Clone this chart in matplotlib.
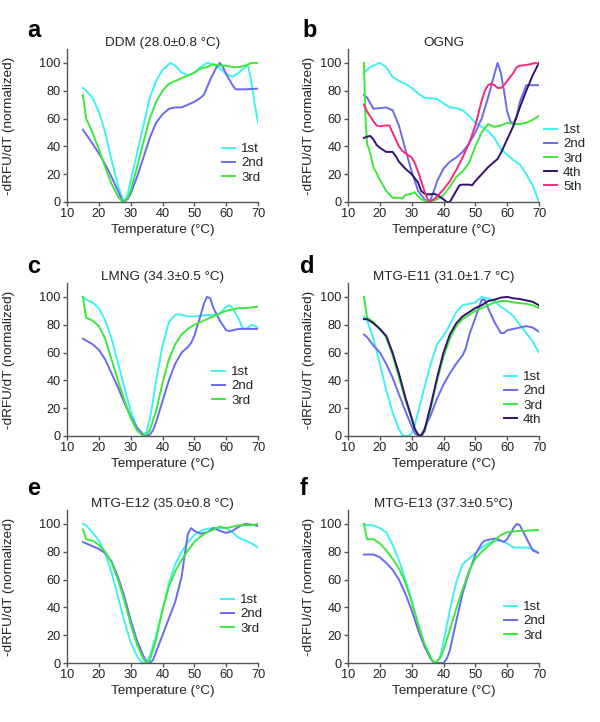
import matplotlib
matplotlib.use("Agg")
import matplotlib.pyplot as plt

plt.rcParams["font.family"] = ["Liberation Sans", "DejaVu Sans"]

C1 = "#3ff2f2"
C2 = "#6a6af0"
C3 = "#3de83d"
C4 = "#35106e"
C5 = "#f22a7c"

# ---- panel a: DDM ----
ddm_1st_t = [15, 16, 18, 20, 22, 24, 26, 27.5, 28, 29, 30, 32, 34, 36, 38, 40, 42.5, 44, 46, 48, 50, 52, 54, 56, 58, 60, 62, 64, 66.5, 67, 68, 69, 70]
ddm_1st_y = [82, 80, 75, 65, 50, 30, 12, 2, 0, 5, 15, 35, 55, 75, 87, 95, 100, 98, 93, 91, 93, 97, 100, 99, 96, 92, 90, 93, 98, 97, 85, 70, 57]
ddm_2nd_t = [15, 18, 20, 22, 24, 26, 27.5, 29, 30, 32, 34, 36, 38, 40, 42, 44, 46, 48, 50, 52, 53, 55, 57, 58, 59, 60, 62, 63, 66, 70]
ddm_2nd_y = [52, 42, 35, 27, 18, 8, 0, 2, 6, 18, 32, 46, 57, 63, 67, 68, 68, 70, 72, 75, 77, 88, 97, 100, 97, 92, 84, 81, 81, 81.5]
ddm_3rd_t = [15, 16, 18, 20, 22, 24, 26, 27.5, 29, 30, 32, 34, 36, 38, 40, 42, 44, 46, 48, 50, 52, 54, 56, 58, 60, 62, 64, 66, 68, 70]
ddm_3rd_y = [77, 60, 50, 38, 25, 13, 4, 0, 3, 8, 25, 43, 60, 72, 80, 85, 87, 89, 91, 93, 96, 97, 99, 98, 98, 97, 97, 98, 100, 100]

# ---- panel b: OGNG ----
ogng_1st_t = [15, 17, 20, 22, 24, 26, 28, 30, 32, 34, 36, 38, 40, 42, 44, 46, 48, 50, 52, 54, 56, 58, 60, 62, 64, 66, 68, 70]
ogng_1st_y = [93, 97, 100, 97, 90, 87, 85, 82, 78, 75, 74.5, 74, 71, 68, 67.5, 66, 62, 57, 54, 51, 46, 38, 34, 30, 27, 20, 12, 0]
ogng_2nd_t = [15, 16, 18, 20, 22, 24, 26, 28, 30, 32, 34, 35, 36, 37, 38, 40, 42, 44, 46, 48, 50, 52, 54, 56, 57, 58, 59, 60, 61, 62, 63, 64, 66, 68, 70]
ogng_2nd_y = [77, 75, 67, 67.5, 68, 66, 55, 38, 22, 8, 2, 0, 2, 8, 15, 24, 29, 32, 36, 42, 50, 60, 75, 92, 100, 93, 80, 65, 58, 56, 62, 72, 84, 84, 84]
ogng_3rd_t = [15, 15.5, 16, 17, 18, 20, 22, 24, 26, 27, 28, 30, 31, 32, 33, 34, 35, 36, 38, 40, 42, 44, 45, 46, 48, 50, 52, 54, 56, 58, 60, 62, 64, 66, 68, 70]
ogng_3rd_y = [100, 60, 42, 35, 25, 16, 8, 3, 3, 2.5, 5, 6, 7, 4, 2, 1, 0.5, 0.5, 2, 5, 11, 18, 20, 22, 28, 40, 50, 56, 54, 55, 57, 56, 56, 57, 59, 62]
ogng_4th_t = [15, 16, 17, 18, 19, 20, 22, 24, 25, 26, 28, 30, 32, 33, 34, 35, 36, 37, 38, 40, 41, 42, 43, 44, 45, 46, 48, 49, 50, 52, 54, 56, 57, 58, 60, 62, 64, 66, 68, 70]
ogng_4th_y = [46, 47, 47.5, 45, 41, 39, 36, 36, 33, 29, 24, 20, 14, 8, 6, 5.5, 5.5, 6, 5, 2, 0, 0, 4, 8, 12, 12.5, 12.5, 12, 15, 20, 25, 29, 31, 35, 45, 55, 68, 80, 91, 100]
ogng_5th_t = [15, 16, 18, 19, 20, 22, 23, 24, 25, 26, 27, 28, 30, 31, 32, 33, 34, 35, 35.5, 37, 38, 40, 42, 44, 46, 48, 50, 52, 53, 54, 55, 56, 57, 58, 59, 60, 62, 63, 64, 66, 68, 69, 70]
ogng_5th_y = [70, 65, 58, 55, 54.5, 55, 55, 50, 45, 40, 37, 35, 32, 28, 22, 15, 8, 2, 0, 2, 4, 9, 15, 23, 32, 42, 55, 73, 80, 84, 85, 84, 82, 82, 84, 87, 93, 97, 98, 98.5, 99.5, 100, 99]

# ---- panel c: LMNG ----
lmng_1st_t = [15, 16, 18, 20, 22, 24, 26, 28, 30, 32, 33, 34, 35, 36, 37, 38, 40, 42, 44, 45, 46, 48, 50, 52, 54, 56, 58, 60, 61, 62, 64, 65, 66, 67, 68, 69, 70]
lmng_1st_y = [100, 98, 96, 92, 83, 70, 53, 35, 18, 6, 2, 0, 3, 12, 25, 40, 65, 82, 87, 87.5, 87, 86, 86, 86.5, 87, 87, 88, 93, 94, 92, 84, 78, 77, 78, 80, 79, 78]
lmng_2nd_t = [15, 18, 20, 22, 24, 26, 28, 30, 32, 34, 35, 36, 37, 38, 40, 42, 44, 46, 48, 49, 50, 52, 53, 54, 55, 56, 58, 60, 61, 62, 64, 66, 68, 70]
lmng_2nd_y = [70, 66, 62, 55, 45, 35, 24, 14, 6, 1, 0, 1, 4, 10, 25, 40, 52, 60, 64, 67, 72, 87, 95, 100, 99, 92, 83, 76, 75.5, 76, 77, 77, 77, 77]
lmng_3rd_t = [15, 16, 18, 20, 22, 24, 26, 28, 30, 32, 34, 35, 36, 38, 40, 42, 44, 46, 48, 50, 52, 54, 56, 58, 60, 62, 64, 66, 68, 70]
lmng_3rd_y = [100, 85, 83, 79, 70, 55, 40, 26, 13, 4, 0, 1, 4, 18, 38, 55, 66, 73, 77, 80, 82, 84, 86, 88, 90, 91, 92, 92, 92.5, 93]

# ---- panel d: MTG-E11 ----
e11_1st_t = [15, 16, 18, 20, 22, 24, 26, 27, 28, 29, 30, 31, 32, 34, 36, 38, 40, 42, 44, 46, 48, 50, 52, 54, 56, 58, 60, 62, 64, 66, 68, 70]
e11_1st_y = [86, 83, 70, 52, 33, 17, 5, 1, 0, 0, 2, 8, 17, 35, 52, 66, 72, 80, 89, 94, 95, 96, 100, 99, 97, 93, 90, 86, 80, 74, 68, 60]
e11_2nd_t = [15, 16, 18, 20, 22, 24, 26, 28, 30, 31, 32, 33, 34, 36, 38, 40, 42, 44, 46, 47, 48, 50, 52, 53, 54, 56, 58, 59, 60, 62, 64, 66, 68, 70]
e11_2nd_y = [73, 71, 65, 60, 52, 42, 30, 18, 7, 2, 0, 1, 5, 15, 27, 37, 45, 52, 58, 63, 72, 85, 98, 98, 92, 82, 74, 74, 76, 77, 78, 79, 78, 75]
e11_3rd_t = [15, 16, 18, 20, 22, 24, 26, 28, 30, 31, 32, 33, 34, 36, 38, 40, 42, 44, 46, 48, 50, 52, 54, 56, 58, 60, 62, 64, 66, 68, 70]
e11_3rd_y = [100, 85, 82, 77, 71, 58, 42, 26, 12, 5, 1, 0, 3, 20, 40, 57, 70, 79, 84, 87, 90, 92, 94, 96, 97, 97, 96, 95.5, 95, 94, 92]
e11_4th_t = [15, 16, 18, 20, 22, 24, 26, 28, 30, 31, 32, 33, 34, 36, 38, 40, 42, 44, 46, 48, 50, 52, 54, 56, 58, 60, 62, 64, 66, 68, 70]
e11_4th_y = [84, 84, 81, 77, 72, 60, 45, 28, 13, 5, 1, 0, 4, 22, 42, 60, 73, 81, 86, 89, 92, 94, 97, 98, 99.5, 100, 99, 98.5, 97.5, 96.5, 94]

# ---- panel e: MTG-E12 ----
e12_1st_t = [15, 16, 18, 20, 22, 24, 26, 28, 30, 32, 33, 34, 35, 36, 38, 40, 42, 44, 46, 48, 50, 52, 54, 56, 58, 60, 62, 64, 66, 68, 70]
e12_1st_y = [100, 99, 94, 88, 79, 65, 48, 30, 15, 5, 1.5, 0, 1, 5, 20, 38, 57, 71, 80, 87, 92, 95, 96.5, 97, 97, 97, 94, 90, 88, 86, 83]
e12_2nd_t = [15, 16, 18, 20, 22, 24, 26, 28, 30, 32, 34, 35, 36, 37, 38, 40, 42, 44, 46, 47, 48, 49, 50, 52, 54, 56, 58, 60, 62, 64, 66, 68, 70]
e12_2nd_y = [87, 86, 84, 82, 79, 73, 62, 48, 31, 16, 5, 1, 0, 2, 8, 20, 32, 44, 62, 78, 93, 97, 95, 93, 94, 97, 95, 93.5, 95, 98, 100, 99.5, 98.5]
e12_3rd_t = [15, 16, 18, 20, 22, 24, 26, 28, 30, 32, 34, 35, 36, 38, 40, 42, 44, 46, 48, 50, 52, 54, 56, 58, 60, 62, 64, 66, 68, 70]
e12_3rd_y = [96, 89, 88, 85, 80, 72, 60, 45, 28, 13, 3, 0, 2, 17, 38, 55, 66, 74, 81, 87, 91, 94, 96, 98, 97, 98, 99, 99, 99, 100]

# ---- panel f: MTG-E13 ----
e13_1st_t = [15, 16, 18, 20, 22, 24, 26, 28, 30, 32, 34, 36, 37, 38, 39, 40, 42, 44, 46, 48, 50, 52, 54, 56, 58, 60, 62, 64, 66, 68, 70]
e13_1st_y = [100, 99, 99, 97, 94, 85, 74, 60, 45, 28, 13, 3, 0, 1, 5, 15, 38, 58, 71, 75, 79, 83, 86, 88, 88, 86, 83, 83, 83, 82, 79]
e13_2nd_t = [15, 18, 20, 22, 24, 26, 28, 30, 32, 34, 36, 37, 38, 40, 41, 42, 44, 46, 48, 50, 52, 53, 56, 58, 59, 60, 62, 63, 64, 66, 68, 70]
e13_2nd_y = [78, 78, 76, 72, 67, 60, 50, 38, 24, 12, 3, 0.5, 0, 0, 3, 9, 30, 50, 65, 78, 86, 88, 89.5, 88, 87, 89, 97, 100, 99, 90, 81, 79]
e13_3rd_t = [15, 16, 18, 20, 22, 24, 26, 28, 30, 32, 34, 36, 37, 38, 39, 40, 42, 44, 46, 48, 50, 52, 54, 56, 58, 60, 62, 64, 66, 68, 70]
e13_3rd_y = [100, 89, 89, 86, 81, 75, 68, 58, 44, 28, 14, 4, 0, 1, 4, 9, 24, 39, 53, 66, 75, 80, 84, 88, 92, 94, 94.5, 95, 95, 95.5, 95.5]

panels = [
    ("a", "DDM (28.0\u00b10.8 \u00b0C)", [
        ("1st", ddm_1st_t, ddm_1st_y, C1),
        ("2nd", ddm_2nd_t, ddm_2nd_y, C2),
        ("3rd", ddm_3rd_t, ddm_3rd_y, C3)]),
    ("b", "OGNG", [
        ("1st", ogng_1st_t, ogng_1st_y, C1),
        ("2nd", ogng_2nd_t, ogng_2nd_y, C2),
        ("3rd", ogng_3rd_t, ogng_3rd_y, C3),
        ("4th", ogng_4th_t, ogng_4th_y, C4),
        ("5th", ogng_5th_t, ogng_5th_y, C5)]),
    ("c", "LMNG (34.3\u00b10.5 \u00b0C)", [
        ("1st", lmng_1st_t, lmng_1st_y, C1),
        ("2nd", lmng_2nd_t, lmng_2nd_y, C2),
        ("3rd", lmng_3rd_t, lmng_3rd_y, C3)]),
    ("d", "MTG-E11 (31.0\u00b11.7 \u00b0C)", [
        ("1st", e11_1st_t, e11_1st_y, C1),
        ("2nd", e11_2nd_t, e11_2nd_y, C2),
        ("3rd", e11_3rd_t, e11_3rd_y, C3),
        ("4th", e11_4th_t, e11_4th_y, C4)]),
    ("e", "MTG-E12 (35.0\u00b10.8 \u00b0C)", [
        ("1st", e12_1st_t, e12_1st_y, C1),
        ("2nd", e12_2nd_t, e12_2nd_y, C2),
        ("3rd", e12_3rd_t, e12_3rd_y, C3)]),
    ("f", "MTG-E13 (37.3\u00b10.5\u00b0C)", [
        ("1st", e13_1st_t, e13_1st_y, C1),
        ("2nd", e13_2nd_t, e13_2nd_y, C2),
        ("3rd", e13_3rd_t, e13_3rd_y, C3)]),
]

W, H = 600, 722
fig = plt.figure(figsize=(W / 100, H / 100), dpi=100)

col_x = [67, 348]            # left edge of axes, px
ylabel_right = [15, 315]     # right edge of rotated y label, px
row_bottom = [202, 436, 663]  # x-axis position, px
ax_w, ax_h = 191, 153
letter_pos = [(27, 37), (302, 37), (27, 273), (300, 273), (27, 495), (300, 495)]
legend_pos = [(222, 143), (544, 124), (212, 366), (504, 371), (221, 594), (504, 601)]
gray = "#555555"
txt = "#222222"
fs = 9.7

for i, (letter, title, series) in enumerate(panels):
    r, c = divmod(i, 2)
    left = col_x[c] / W
    bottom = 1 - row_bottom[r] / H
    ax = fig.add_axes([left, bottom, ax_w / W, ax_h / H])

    for name, t, y, color in series:
        ax.plot(t, y, color=color, lw=1.4, label=name)

    ax.set_xlim(10, 70)
    ax.set_ylim(0, 110)
    ax.set_xticks([10, 20, 30, 40, 50, 60, 70])
    ax.set_yticks([0, 20, 40, 60, 80, 100])
    for s in ["top", "right"]:
        ax.spines[s].set_visible(False)
    for s in ["left", "bottom"]:
        ax.spines[s].set_color(gray)
        ax.spines[s].set_linewidth(1.0)
    ax.tick_params(direction="out", length=3, width=1.0, color=gray,
                   labelsize=9.2, pad=1.5, labelcolor=txt)

    ax.set_title(title, fontsize=fs, pad=0, color=txt)
    ax.set_xlabel("Temperature (\u00b0C)", fontsize=fs, labelpad=3, color=txt)
    ax.set_ylabel("-dRFU/dT (normalized)", fontsize=fs, color=txt)
    ax.yaxis.set_label_coords((ylabel_right[c] - col_x[c]) / ax_w, 0.5)

    lx, ly = legend_pos[i]
    ax.legend(loc="upper left", bbox_to_anchor=(lx / W, 1 - ly / H),
              bbox_transform=fig.transFigure, frameon=False, fontsize=9.5,
              borderpad=0, borderaxespad=0, handlelength=1.0,
              handletextpad=0.45, labelspacing=0.15, labelcolor=txt)

    px, py = letter_pos[i]
    fig.text(px / W, 1 - py / H, letter, fontsize=17, fontweight="bold",
             va="baseline", ha="left")

fig.savefig("out.png", dpi=100)
plt.close(fig)
